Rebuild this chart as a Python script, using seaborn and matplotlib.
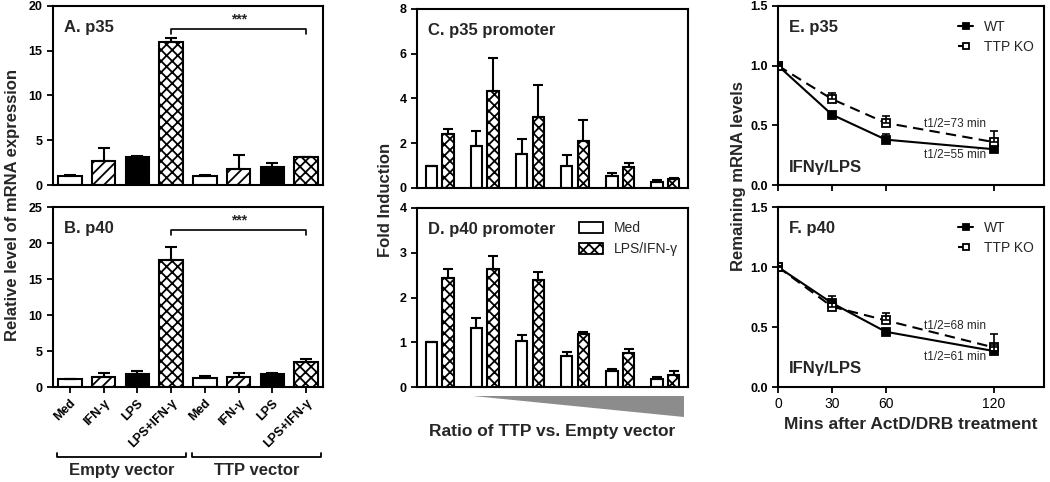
import numpy as np
import pandas as pd
import matplotlib
matplotlib.use("Agg")
import matplotlib.pyplot as plt
from matplotlib.patches import Patch, Polygon
import matplotlib.transforms as mtransforms
import seaborn as sns

# ---------------- data ----------------
conditions = ["Med", "IFN-γ", "LPS", "LPS+IFN-γ", "Med", "IFN-γ", "LPS", "LPS+IFN-γ"]
vectors = ["Empty vector", "TTP vector"]
a_mean = [1.05, 2.7, 3.15, 16.0, 1.05, 1.8, 2.05, 3.1]
a_err = [0.05, 1.4, 0.1, 0.4, 0.05, 1.5, 0.45, 0.08]
b_mean = [1.1, 1.4, 1.8, 17.7, 1.25, 1.4, 1.8, 3.5]
b_err = [0.05, 0.55, 0.4, 1.7, 0.25, 0.6, 0.2, 0.4]
a_sig = [16.9, 17.4]
b_sig = [21.1, 21.8]

ratios = ["r0", "r1", "r2", "r3", "r4", "r5"]
treatments = ["Med", "LPS/IFN-γ"]
c_med = [1.0, 1.88, 1.5, 1.0, 0.53, 0.29]
c_med_err = [0.0, 0.68, 0.68, 0.47, 0.15, 0.06]
c_lps = [2.42, 4.35, 3.16, 2.1, 0.95, 0.39]
c_lps_err = [0.2, 1.45, 1.44, 0.95, 0.18, 0.05]
d_med = [1.0, 1.31, 1.02, 0.70, 0.36, 0.18]
d_med_err = [0.0, 0.23, 0.15, 0.08, 0.05, 0.04]
d_lps = [2.44, 2.64, 2.39, 1.19, 0.75, 0.27]
d_lps_err = [0.19, 0.29, 0.18, 0.05, 0.11, 0.08]

times = [0, 30, 60, 120]
e_wt = [1.0, 0.59, 0.38, 0.30]
e_wt_err = [0.01, 0.02, 0.05, 0.02]
e_ko = [1.0, 0.72, 0.52, 0.36]
e_ko_err = [0.01, 0.05, 0.06, 0.09]
f_wt = [1.0, 0.70, 0.46, 0.30]
f_wt_err = [0.01, 0.06, 0.02, 0.05]
f_ko = [1.0, 0.67, 0.555, 0.33]
f_ko_err = [0.01, 0.03, 0.065, 0.11]
e_half = ["t1/2=73 min", "t1/2=55 min"]
f_half = ["t1/2=68 min", "t1/2=61 min"]

# ---------------- style ----------------
sns.set_style("ticks")
plt.rcParams["font.family"] = ["Liberation Sans", "DejaVu Sans"]
plt.rcParams["hatch.linewidth"] = 1.3
plt.rcParams["axes.linewidth"] = 1.5
plt.rcParams["axes.edgecolor"] = "black"

W, H = 1050, 482
fig = plt.figure(figsize=(W / 100, H / 100), dpi=100)


def rect(l, r, t, b):
    return [l / W, 1 - b / H, (r - l) / W, (b - t) / H]


axA = fig.add_axes(rect(53, 323, 6, 185))
axB = fig.add_axes(rect(53, 323, 207, 387))
axC = fig.add_axes(rect(417, 688, 9, 188))
axD = fig.add_axes(rect(417, 688, 208, 387))
axE = fig.add_axes(rect(778, 1044, 6, 185))
axF = fig.add_axes(rect(778, 1044, 207, 387))

fill_map = {"Med": ("white", ""), "IFN-γ": ("white", "///"),
            "LPS": ("black", ""), "LPS+IFN-γ": ("white", "xxx")}

TITLE_SIZE = 12
LABEL_SIZE = 12


def style_ticks(ax, ysize=9):
    ax.tick_params(axis="both", direction="out", length=4, width=1.3, colors="black")
    for lab in ax.get_yticklabels():
        lab.set_fontweight("bold")
        lab.set_fontsize(ysize)


def bar_panel(ax, means, errs, ymax, title, sig, show_x):
    df = pd.DataFrame({"pos": list(range(len(means))), "val": means})
    sns.barplot(data=df, x="pos", y="val", ax=ax, color="white", saturation=1,
                width=0.7, edgecolor="black", linewidth=1.5, errorbar=None)
    for p, c in zip(ax.patches, conditions):
        fc, h = fill_map[c]
        p.set_facecolor(fc)
        p.set_hatch(h)
    xs = [p.get_x() + p.get_width() / 2 for p in ax.patches]
    ax.errorbar(xs, means, yerr=[np.zeros(len(errs)), errs], fmt="none",
                ecolor="black", elinewidth=1.5, capsize=4, capthick=1.5, zorder=3)
    ax.set_xlim(-0.5, len(means) - 0.5)
    ax.set_ylim(0, ymax)
    ax.set_yticks(np.arange(0, ymax + 1, 5))
    ax.set_xlabel("")
    ax.set_ylabel("")
    ax.text(0.04, 0.88, title, transform=ax.transAxes, fontsize=TITLE_SIZE,
            fontweight="bold", va="center")
    # significance bracket
    ax.plot([xs[3], xs[3], xs[7], xs[7]], [sig[0], sig[1], sig[1], sig[0]],
            color="black", lw=1.2)
    ax.text((xs[3] + xs[7]) / 2, sig[1] + 0.015 * ymax, "***", ha="center",
            va="bottom", fontsize=10, fontweight="bold")
    if show_x:
        ax.set_xticks(xs)
        ax.set_xticklabels(conditions, rotation=45, ha="right",
                           rotation_mode="anchor", fontsize=9, fontweight="bold")
    else:
        ax.set_xticks([])
    style_ticks(ax)
    return xs


bar_panel(axA, a_mean, a_err, 20, "A. p35", a_sig, False)
xsB = bar_panel(axB, b_mean, b_err, 25, "B. p40", b_sig, True)

# group brackets under B
trB = mtransforms.blended_transform_factory(axB.transData, axB.transAxes)
for gi, name in enumerate(vectors):
    x0 = xsB[gi * 4] - 0.38
    x1 = xsB[gi * 4 + 3] + 0.45
    axB.plot([x0, x0, x1, x1], [-0.365, -0.39, -0.39, -0.365], transform=trB,
             color="black", lw=1.3, clip_on=False)
    axB.text((x0 + x1) / 2, -0.465, name, transform=trB, ha="center", va="center",
             fontsize=12, fontweight="bold")


def promoter_panel(ax, med, med_err, lps, lps_err, ymax, title, legend):
    df = pd.DataFrame({
        "ratio": ratios * 2,
        "treat": [treatments[0]] * len(ratios) + [treatments[1]] * len(ratios),
        "val": med + lps,
    })
    sns.barplot(data=df, x="ratio", y="val", hue="treat", order=ratios,
                hue_order=treatments, palette={t: "white" for t in treatments},
                saturation=1, width=0.74, gap=0.32, edgecolor="black",
                linewidth=1.5, errorbar=None, legend=False, ax=ax)
    n = len(ratios)
    for i, p in enumerate(ax.patches):
        p.set_facecolor("white")
        if i >= n:
            p.set_hatch("xxx")
    xs = [p.get_x() + p.get_width() / 2 for p in ax.patches]
    vals = med + lps
    errs = med_err + lps_err
    ax.errorbar(xs, vals, yerr=[np.zeros(len(errs)), errs], fmt="none",
                ecolor="black", elinewidth=1.5, capsize=3.5, capthick=1.5, zorder=3)
    ax.set_xlim(-0.5, n - 0.5)
    ax.set_ylim(0, ymax)
    ax.set_yticks(np.arange(0, ymax + 1, 2 if ymax > 4 else 1))
    ax.set_xticks([])
    ax.set_xlabel("")
    ax.set_ylabel("")
    ax.text(0.04, 0.88, title, transform=ax.transAxes, fontsize=TITLE_SIZE,
            fontweight="bold", va="center")
    style_ticks(ax)
    if legend:
        handles = [Patch(facecolor="white", edgecolor="black", linewidth=1.3),
                   Patch(facecolor="white", edgecolor="black", linewidth=1.3, hatch="xxx")]
        ax.legend(handles, treatments, loc="upper right", frameon=False,
                  fontsize=10, handlelength=1.7, handleheight=0.9,
                  bbox_to_anchor=(1.0, 0.98), borderaxespad=0.3, labelspacing=0.5)
    return ax.patches


promoter_panel(axC, c_med, c_med_err, c_lps, c_lps_err, 8, "C. p35 promoter", False)
pD = promoter_panel(axD, d_med, d_med_err, d_lps, d_lps_err, 4, "D. p40 promoter", True)

# gray wedge under D
trD = mtransforms.blended_transform_factory(axD.transData, axD.transAxes)
n = len(ratios)
xl = pD[1].get_x() + 0.05
xr = pD[2 * n - 1].get_x() + pD[2 * n - 1].get_width() + 0.1
wedge = Polygon([[xl, -0.05], [xr, -0.05], [xr, -0.168]], closed=True,
                transform=trD, facecolor="#8c8c8c", edgecolor="none", clip_on=False)
axD.add_patch(wedge)
axD.text(0.5, -0.246, "Ratio of TTP vs. Empty vector", transform=axD.transAxes,
         ha="center", va="center", fontsize=12.5, fontweight="bold")


def decay_panel(ax, wt, wt_err, ko, ko_err, title, halves, show_x):
    sns.lineplot(x=times, y=wt, ax=ax, color="black", marker="s", markersize=6,
                 markeredgecolor="black", markeredgewidth=1.3, markerfacecolor="black",
                 linewidth=1.5, label="WT")
    sns.lineplot(x=times, y=ko, ax=ax, color="black", marker="s", markersize=6,
                 markeredgecolor="black", markeredgewidth=1.3, markerfacecolor="white",
                 linewidth=1.5, linestyle=(0, (5, 3)), label="TTP KO")
    ax.errorbar(times, wt, yerr=[np.zeros(len(wt)), wt_err], fmt="none",
                ecolor="black", elinewidth=1.2, capsize=3, capthick=1.2)
    ax.errorbar(times, ko, yerr=[np.zeros(len(ko)), ko_err], fmt="none",
                ecolor="black", elinewidth=1.2, capsize=3, capthick=1.2)
    ax.set_xlim(0, 148)
    ax.set_ylim(0, 1.5)
    ax.set_yticks([0, 0.5, 1.0, 1.5])
    ax.set_yticklabels(["0.0", "0.5", "1.0", "1.5"])
    ax.set_xticks(times)
    ax.set_ylabel("")
    ax.set_xlabel("")
    if not show_x:
        ax.tick_params(axis="x", labelbottom=False)
    style_ticks(ax)
    for lab in ax.get_xticklabels():
        lab.set_fontsize(10)
    ax.text(0.04, 0.88, title, transform=ax.transAxes, fontsize=TITLE_SIZE,
            fontweight="bold", va="center")
    ax.text(0.04, 0.10, "IFNγ/LPS", transform=ax.transAxes, fontsize=12,
            fontweight="bold", va="center")
    ax.text(116, 0.51, halves[0], ha="right", va="center", fontsize=8.5)
    ax.text(116, 0.25, halves[1], ha="right", va="center", fontsize=8.5)
    ax.legend(loc="upper right", frameon=False, fontsize=10, handlelength=1.1,
              markerscale=0.8, bbox_to_anchor=(1.01, 0.99), labelspacing=0.4,
              handletextpad=0.8)


decay_panel(axE, e_wt, e_wt_err, e_ko, e_ko_err, "E. p35", e_half, False)
decay_panel(axF, f_wt, f_wt_err, f_ko, f_ko_err, "F. p40", f_half, True)
axF.set_xlabel("Mins after ActD/DRB treatment", fontsize=12.5, fontweight="bold", labelpad=4)

# shared y labels
fig.text(0.012, 0.575, "Relative level of mRNA expression", rotation=90,
         ha="center", va="center", fontsize=LABEL_SIZE, fontweight="bold")
fig.text(0.367, 0.585, "Fold Induction", rotation=90, ha="center", va="center",
         fontsize=LABEL_SIZE, fontweight="bold")
fig.text(0.703, 0.635, "Remaining mRNA levels", rotation=90, ha="center",
         va="center", fontsize=LABEL_SIZE, fontweight="bold")

fig.savefig("out.png", dpi=100)
